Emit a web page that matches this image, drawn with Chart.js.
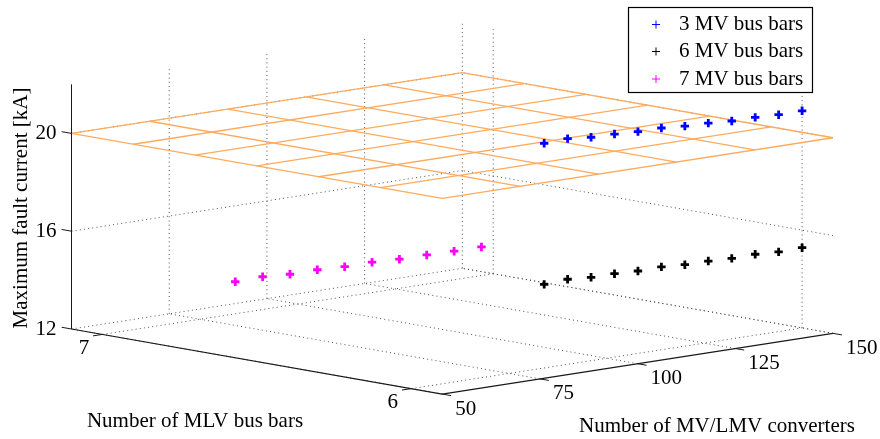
<!DOCTYPE html>
<html>
<head>
<meta charset="utf-8">
<script src="https://cdn.jsdelivr.net/npm/chart.js@4/dist/chart.umd.min.js"></script>
<style>
html,body{margin:0;padding:0;background:#fff;}
#wrap{width:880px;height:439px;position:relative;}
</style>
</head>
<body>
<div id="wrap"><canvas id="c" width="880" height="439"></canvas></div>
<script>
// ---- data ----
const convertersA = [84, 90, 96, 102, 108, 114, 120, 126, 132, 138, 144, 150];
const convertersB = [84, 91, 98, 105, 112, 119, 126, 133, 140, 147];
const mlvA = 6;
const mlvB = 7;
const current3MV = [21.19, 21.23, 21.14, 21.12, 21.07, 21.07, 21.00, 20.97, 20.91, 20.91, 20.87, 20.88];
const current6MV = [15.42, 15.48, 15.41, 15.41, 15.37, 15.39, 15.33, 15.33, 15.29, 15.31, 15.26, 15.28];
const current7MV = [13.31, 13.34, 13.27, 13.28, 13.23, 13.24, 13.19, 13.19, 13.17, 13.17];
const seriesNames = ['3 MV bus bars', '6 MV bus bars', '7 MV bus bars'];
const convTicks = [50, 75, 100, 125, 150];
const mlvTicks = [6, 7];
const currentTicks = [12, 16, 20];
const convRange = [50, 150];
const mlvRange = [5.9, 7.1];
const currentRange = [12, 22];
const planeLevel = 20;
const planeConv = [50, 70, 90, 110, 130, 150];
const planeMlv = [5.9, 6.1, 6.3, 6.5, 6.7, 6.9, 7.1];

// ---- orthographic view (camera) ----
const view = {ox: 71.5, oy: 329, cu: 3.908, cv: -0.607, mu: -308.9, mv: -54.2, zv: -24.45};
function proj(c, m, z) {
  const dc = c - convRange[0], dm = m - mlvRange[1], dz = z - currentRange[0];
  return {x: view.ox + dc * view.cu + dm * view.mu, y: view.oy + dc * view.cv + dm * view.mv + dz * view.zv};
}

const datasets = [];
function seg(pts, color, width, dash, order) {
  datasets.push({data: pts, showLine: true, borderColor: color, borderWidth: width,
    borderDash: dash || [], pointRadius: 0, pointHoverRadius: 0, fill: false, order: order, tension: 0});
}
const GRID = '#505050', GD = [1, 3.2];
const [c0, c1] = convRange, [m0, m1] = mlvRange, [z0, z1] = currentRange;
// floor grid
convTicks.forEach(c => seg([proj(c, m0, z0), proj(c, m1, z0)], GRID, 1, GD, 100));
mlvTicks.forEach(m => seg([proj(c0, m, z0), proj(c1, m, z0)], GRID, 1, GD, 100));
// back-left wall (m = m1)
convTicks.forEach(c => seg([proj(c, m1, z0), proj(c, m1, z1)], GRID, 1, GD, 100));
currentTicks.forEach(z => seg([proj(c0, m1, z), proj(c1, m1, z)], GRID, 1, GD, 100));
// back-right wall (c = c1)
mlvTicks.forEach(m => seg([proj(c1, m, z0), proj(c1, m, z1)], GRID, 1, GD, 100));
currentTicks.forEach(z => seg([proj(c1, m0, z), proj(c1, m1, z)], GRID, 1, GD, 100));
// plane mesh
const PL = '#ffab5e';
planeConv.forEach(c => seg([proj(c, m0, planeLevel), proj(c, m1, planeLevel)], PL, 1.3, [], 50));
planeMlv.forEach(m => seg([proj(c0, m, planeLevel), proj(c1, m, planeLevel)], PL, 1.3, [], 50));
// axes
const AX = '#1a1a1a';
seg([proj(c0, m1, z0), proj(c0, m1, z1)], AX, 1, [], 40);
seg([proj(c0, m1, z0), proj(c0, m0, z0)], AX, 1.2, [], 40);
seg([proj(c0, m0, z0), proj(c1, m0, z0)], AX, 1.2, [], 40);
currentTicks.forEach(z => seg([proj(c0, m1, z), proj(c0, m1 + 0.032, z)], AX, 1, [], 40));
mlvTicks.forEach(m => seg([proj(c0, m, z0), proj(c0 - 2.4, m, z0)], AX, 1, [], 40));
convTicks.forEach(c => seg([proj(c, m0, z0), proj(c, m0 - 0.029, z0)], AX, 1, [], 40));
// data series
function series(convs, mlv, vals, color) {
  datasets.push({data: convs.map((c, i) => proj(c, mlv, vals[i])), showLine: false,
    pointStyle: 'cross', pointRadius: 4.2, borderWidth: 2.8, borderColor: color, backgroundColor: color, order: 0});
}
series(convertersA, mlvA, current3MV, '#0000ff');
series(convertersA, mlvA, current6MV, '#000000');
series(convertersB, mlvB, current7MV, '#ff00ff');

const FONT = '21px "Liberation Serif", "Times New Roman", serif';
const textPlugin = {
  id: 'texts',
  afterDraw(chart) {
    const ctx = chart.ctx;
    ctx.save();
    ctx.fillStyle = '#000';
    ctx.font = FONT;
    ctx.textBaseline = 'middle';
    ctx.textAlign = 'right';
    currentTicks.forEach(z => { const p = proj(c0, m1, z); ctx.fillText(String(z), p.x - 15, p.y); });
    ctx.textAlign = 'center';
    mlvTicks.forEach(m => { const p = proj(c0, m, z0); ctx.fillText(String(m), p.x - 18.5, p.y + 14); });
    ctx.textAlign = 'left';
    convTicks.forEach(c => { const p = proj(c, m0, z0); ctx.fillText(String(c), p.x + 13, p.y + 15); });
    ctx.textAlign = 'center';
    ctx.fillText('Number of MLV bus bars', 195, 421);
    ctx.fillText('Number of MV/LMV converters', 717, 426);
    ctx.save();
    ctx.translate(21, 208);
    ctx.rotate(-Math.PI / 2);
    ctx.fillText('Maximum fault current [kA]', 0, 0);
    ctx.restore();
    // legend
    const bx = 628.5, by = 7.5, bw = 184, bh = 85;
    ctx.fillStyle = '#fff';
    ctx.fillRect(bx, by, bw, bh);
    ctx.strokeStyle = '#000';
    ctx.lineWidth = 1.2;
    ctx.strokeRect(bx, by, bw, bh);
    const cols = ['#0000ff', '#000000', '#ff00ff'];
    const ys = [24.5, 51.5, 79];
    ctx.textAlign = 'left';
    seriesNames.forEach((n, i) => {
      ctx.strokeStyle = cols[i];
      ctx.lineWidth = 1;
      ctx.beginPath();
      ctx.moveTo(652, ys[i]); ctx.lineTo(660, ys[i]);
      ctx.moveTo(656, ys[i] - 4); ctx.lineTo(656, ys[i] + 4);
      ctx.stroke();
      ctx.fillStyle = '#000';
      ctx.fillText(n, 679, ys[i]);
    });
    ctx.restore();
  }
};

new Chart(document.getElementById('c'), {
  type: 'scatter',
  data: {datasets: datasets},
  options: {
    responsive: false,
    animation: false,
    layout: {padding: 0, autoPadding: false},
    plugins: {legend: {display: false}, tooltip: {enabled: false}},
    events: [],
    scales: {
      x: {type: 'linear', min: 0, max: 880, display: false},
      y: {type: 'linear', min: 0, max: 439, reverse: true, display: false}
    }
  },
  plugins: [textPlugin]
});
</script>
</body>
</html>
